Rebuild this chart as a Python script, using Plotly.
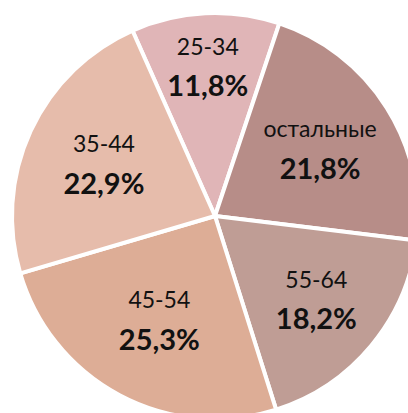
import plotly.graph_objects as go

labels = ["25-34", "остальные", "55-64", "45-54", "35-44"]
values = [11.8, 21.8, 18.2, 25.3, 22.9]
colors = ["#E0B5B7", "#B78D88", "#BF9D95", "#DDAD96", "#E6BCAB"]

W, H = 430, 432
cx, cy, R = 215, 216, 203

fig = go.Figure(go.Pie(
    labels=labels,
    values=values,
    sort=False,
    direction="clockwise",
    rotation=-24,
    marker=dict(colors=colors, line=dict(color="white", width=4)),
    texttemplate="<span style='font-size:23px'>%{label}</span><br><span style='font-size:29px'><b>%{value:.1f}%</b></span>",
    textposition="inside",
    insidetextorientation="horizontal",
    textfont=dict(family="Lato", size=32, color="#111111"),
    hoverinfo="skip",
    showlegend=False,
    domain=dict(x=[(cx - R) / W, (cx + R) / W], y=[(H - cy - R) / H, (H - cy + R) / H]),
))

fig.update_layout(
    width=W, height=H,
    margin=dict(l=0, r=0, t=0, b=0),
    paper_bgcolor="white",
    separators=", ",
)

fig.write_html(
    "out.html",
    config={"displayModeBar": False},
    post_script="document.body.style.margin='0';document.body.style.overflow='hidden';document.documentElement.style.overflow='hidden';",
)
